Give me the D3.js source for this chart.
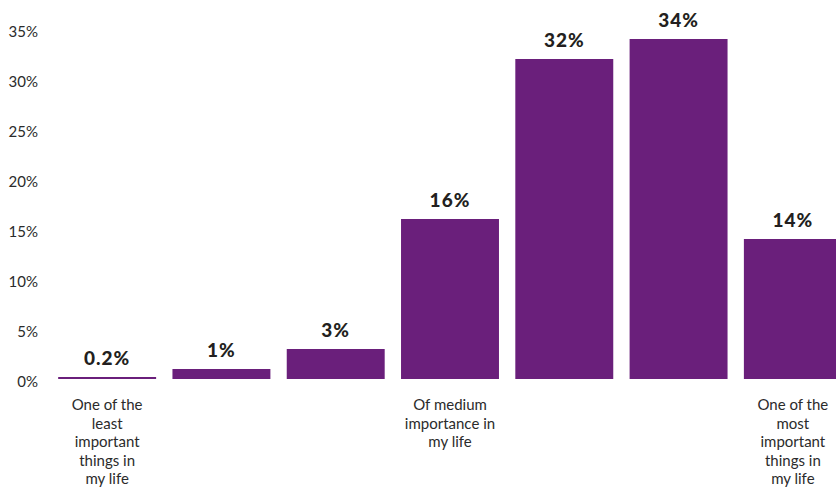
<!DOCTYPE html>
<html>
<head>
<meta charset="utf-8">
<script src="https://cdn.jsdelivr.net/npm/d3@7"></script>
<style>
  html, body { margin: 0; padding: 0; background: #fff; }
  svg { display: block; }
  text { font-family: Lato, "Open Sans", sans-serif; }
</style>
</head>
<body>
<svg id="chart" width="836" height="487"></svg>
<script>
// Importance rating, share of respondents per scale point
const categories = [
  ["One of the", "least", "important", "things in", "my life"],
  [],
  [],
  ["Of medium", "importance in", "my life"],
  [],
  [],
  ["One of the", "most", "important", "things in", "my life"]
];
const values = [0.2, 1, 3, 16, 32, 34, 14];
const valueLabels = ["0.2%", "1%", "3%", "16%", "32%", "34%", "14%"];
const yTicks = [0, 5, 10, 15, 20, 25, 30, 35];

const svg = d3.select("#chart");
const barColor = "#6a1f7b";

const x = d3.scaleBand()
  .domain(d3.range(values.length))
  .range([50, 850])
  .paddingInner(0.143)
  .paddingOuter(0.0715);

const y = d3.scaleLinear()
  .domain([0, 35])
  .range([379, 29]);

// Y axis: labels only, no line or tick marks
const yAxis = d3.axisLeft(y)
  .tickValues(yTicks)
  .tickFormat(d => d + "%")
  .tickSize(0)
  .tickPadding(0);

const gy = svg.append("g")
  .attr("transform", "translate(38,3)")
  .call(yAxis);
gy.select(".domain").remove();
gy.selectAll("text")
  .attr("font-family", "Lato, 'Open Sans', sans-serif")
  .attr("font-size", 15)
  .attr("fill", "#2b2b2b");

// Bars
svg.append("g")
  .selectAll("rect")
  .data(values)
  .join("rect")
  .attr("x", (d, i) => x(i))
  .attr("y", d => y(d))
  .attr("width", x.bandwidth())
  .attr("height", d => y(0) - y(d))
  .attr("fill", barColor);

// Value labels above bars
svg.append("g")
  .selectAll("text")
  .data(values)
  .join("text")
  .attr("x", (d, i) => x(i) + x.bandwidth() / 2)
  .attr("y", d => y(d) - 12)
  .attr("text-anchor", "middle")
  .attr("font-size", 19)
  .attr("font-weight", 900)
  .attr("letter-spacing", 1)
  .attr("fill", "#231f20")
  .text((d, i) => valueLabels[i]);

// Category labels under the axis
const cat = svg.append("g")
  .selectAll("text")
  .data(categories)
  .join("text")
  .attr("x", (d, i) => x(i) + x.bandwidth() / 2)
  .attr("y", 410)
  .attr("text-anchor", "middle")
  .attr("font-size", 15)
  .attr("fill", "#2b2b2b");

cat.selectAll("tspan")
  .data(d => d)
  .join("tspan")
  .attr("x", function () { return d3.select(this.parentNode).attr("x"); })
  .attr("dy", (d, i) => i === 0 ? 0 : 18.6)
  .text(d => d);
</script>
</body>
</html>
